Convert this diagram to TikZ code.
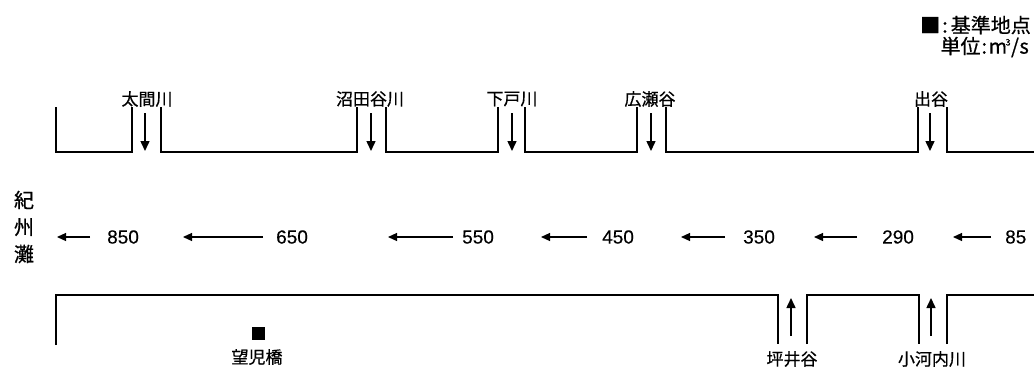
\documentclass[tikz,border=0pt]{standalone}
\usepackage{fontspec}
\newfontfamily\cjk[FakeBold=0.6]{Noto Sans CJK JP}
\newfontfamily\numfont[FakeBold=0.3]{Liberation Sans}
\usetikzlibrary{arrows.meta}
\begin{document}
\begin{tikzpicture}[x=1pt,y=-1pt,
  bank/.style={line width=2.4pt},
  trib/.style={line width=1.5pt,-{Triangle[length=10pt,width=9pt]}},
  flow/.style={line width=1.2pt,-{Triangle[length=9pt,width=8pt]}},
  lbl/.style={font=\cjk\fontsize{17}{20}\selectfont,inner sep=0pt},
  leg/.style={font=\cjk\fontsize{20}{22}\selectfont,inner sep=0pt,anchor=east},
  numlbl/.style={font=\numfont\fontsize{19}{22}\selectfont,inner sep=0pt,anchor=west}]
\useasboundingbox (0,0) rectangle (1034,367);
% legend
\node[leg] (leg1) at (1031,25) {■\kern2pt:\kern3pt基準地点};
\node[leg] (leg2) at (1029,47) {単位\kern1pt:\kern1.5pt m\kern-1.5pt\raisebox{0.75ex}{\fontsize{9}{9}\selectfont 3}\kern0.5pt/\kern0.5pt s};
% upper bank
\draw[bank] (56,107) -- (56,152) -- (132,152) -- (132,107);
\draw[bank] (161,107) -- (161,152) -- (357,152) -- (357,107);
\draw[bank] (386,107) -- (386,152) -- (498,152) -- (498,107);
\draw[bank] (525,107) -- (525,152) -- (637,152) -- (637,107);
\draw[bank] (666,107) -- (666,152) -- (918,152) -- (918,107);
\draw[bank] (947,107) -- (947,152) -- (1035,152);
% lower bank
\draw[bank] (56,345) -- (56,295) -- (778,295) -- (778,344);
\draw[bank] (807,344) -- (807,295) -- (919,295) -- (919,344);
\draw[bank] (947,344) -- (947,295) -- (1035,295);
% upper tributaries
\node[lbl] (t1) at (147,99) {太間川};
\node[lbl] (t2) at (370,99) {沼田谷川};
\node[lbl] (t3) at (512,99) {下戸川};
\node[lbl] (t4) at (650,99) {広瀬谷};
\node[lbl] (t5) at (931,99) {出谷};
\coordinate (a1s) at (145,113); \coordinate (a1e) at (145,151);
\coordinate (a2s) at (371,113); \coordinate (a2e) at (371,151);
\coordinate (a3s) at (512,113); \coordinate (a3e) at (512,151);
\coordinate (a4s) at (651,113); \coordinate (a4e) at (651,151);
\coordinate (a5s) at (930,113); \coordinate (a5e) at (930,151);
\draw[trib] (a1s) -- (a1e);
\draw[trib] (a2s) -- (a2e);
\draw[trib] (a3s) -- (a3e);
\draw[trib] (a4s) -- (a4e);
\draw[trib] (a5s) -- (a5e);
% lower tributaries
\node[lbl] (b1) at (792,359) {坪井谷};
\node[lbl] (b2) at (932,359) {小河内川};
\coordinate (c1s) at (791,336); \coordinate (c1e) at (791,298);
\coordinate (c2s) at (931,336); \coordinate (c2e) at (931,298);
\draw[trib] (c1s) -- (c1e);
\draw[trib] (c2s) -- (c2e);
% sea
\node[font=\cjk\fontsize{20}{27}\selectfont,inner sep=0pt,align=center] (sea) at (24,227) {紀\\州\\灘};
% reference point
\node[fill=black,minimum size=13pt,inner sep=0pt] (sq) at (258,333) {};
\node[lbl] (ref) at (257,357) {望児橋};
% flows
\node[numlbl] (n1) at (107,237) {850};
\node[numlbl] (n2) at (276,237) {650};
\node[numlbl] (n3) at (462,237) {550};
\node[numlbl] (n4) at (602,237) {450};
\node[numlbl] (n5) at (743,237) {350};
\node[numlbl] (n6) at (882,237) {290};
\node[numlbl] (n7) at (1005,237) {85};
\coordinate (f1s) at (90,237);  \coordinate (f1e) at (57,237);
\coordinate (f2s) at (263,237); \coordinate (f2e) at (183,237);
\coordinate (f3s) at (453,237); \coordinate (f3e) at (388,237);
\coordinate (f4s) at (587,237); \coordinate (f4e) at (541,237);
\coordinate (f5s) at (725,237); \coordinate (f5e) at (681,237);
\coordinate (f6s) at (857,237); \coordinate (f6e) at (814,237);
\coordinate (f7s) at (991,237); \coordinate (f7e) at (953,237);
\draw[flow] (f1s) -- (f1e);
\draw[flow] (f2s) -- (f2e);
\draw[flow] (f3s) -- (f3e);
\draw[flow] (f4s) -- (f4e);
\draw[flow] (f5s) -- (f5e);
\draw[flow] (f6s) -- (f6e);
\draw[flow] (f7s) -- (f7e);
\end{tikzpicture}
\end{document}
